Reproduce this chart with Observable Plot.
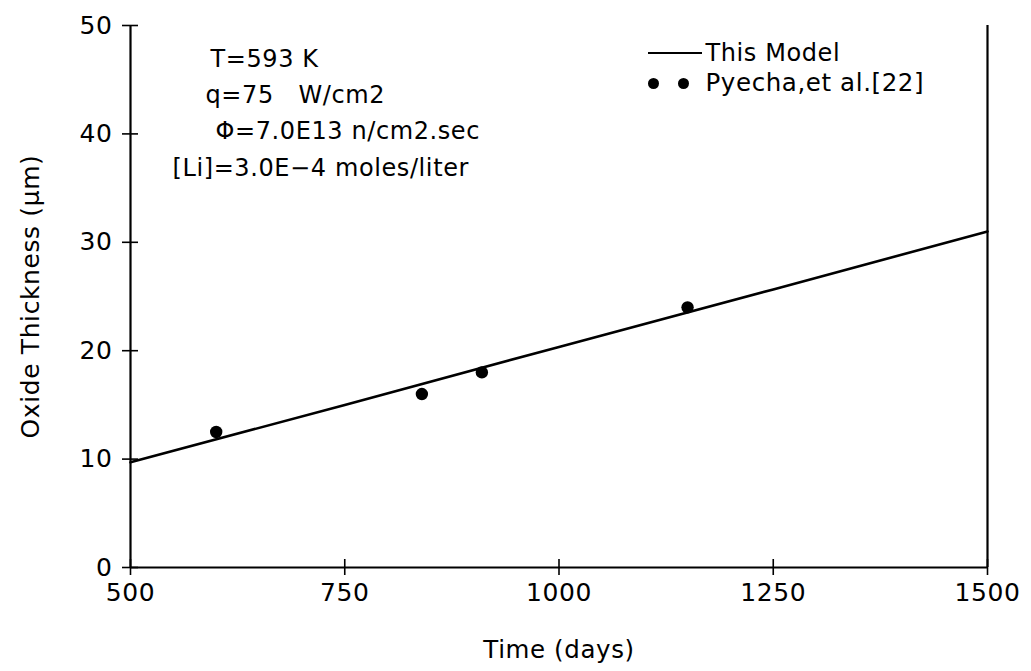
<!DOCTYPE html>
<html><head><meta charset="utf-8">
<script src="https://cdn.jsdelivr.net/npm/d3@7"></script>
<script src="https://cdn.jsdelivr.net/npm/@observablehq/plot@0.6"></script>
<style>
body{margin:0;background:#fff}
svg{display:block}
</style>
</head><body><div id="chart"></div>
<script>
// Model curve ("This Model")
const modelDays = [500, 750, 1000, 1250, 1500];
const modelThickness = [9.7, 15.0, 20.35, 25.65, 31.0];
// Measured data (Pyecha, et al. [22])
const pyechaDays = [600, 840, 910, 1150];
const pyechaThickness = [12.5, 16.0, 18.0, 24.0];
// Axes
const xTicks = [500, 750, 1000, 1250, 1500];
const yTicks = [0, 10, 20, 30, 40, 50];
const xDomain = [500, 1500];
const yDomain = [0, 50];
// Texts
const conditions = ["T=593 K", "q=75   W/cm2", "\u03A6=7.0E13 n/cm2.sec", "[Li]=3.0E\u22124 moles/liter"];
const legendLabels = ["This Model", "Pyecha,et al.[22]"];
const xLabel = "Time (days)";
const yLabel = "Oxide Thickness (\u03BCm)";

const model = modelDays.map((d, i) => ({day: d, thickness: modelThickness[i]}));
const pyecha = pyechaDays.map((d, i) => ({day: d, thickness: pyechaThickness[i]}));

const font = "DejaVu Sans";
const condOffsets = [[80, 34], [75, 70], [85, 106], [42, 143]];
const W = 1031, H = 671, ML = 130, MR = 44, MT = 25, MB = 104;
const frameW = W - ML - MR, frameH = H - MT - MB;

// legend sample line drawn in frame pixel space
const legendLine = (index, scales, values, dims) => {
  const right = dims.width - dims.marginRight;
  const top = dims.marginTop;
  return d3.create("svg:line")
    .attr("x1", right - 339).attr("x2", right - 285)
    .attr("y1", top + 28).attr("y2", top + 28)
    .attr("stroke", "#000").attr("stroke-width", 2)
    .node();
};

const chart = Plot.plot({
  width: W,
  height: H,
  marginLeft: ML,
  marginRight: MR,
  marginTop: MT,
  marginBottom: MB,
  style: {fontFamily: font, fontSize: "24px", color: "#000", background: "#fff", letterSpacing: "0.6px"},
  x: {domain: xDomain},
  y: {domain: yDomain},
  marks: [
    // frame: left, right, bottom
    Plot.ruleX(xDomain, {stroke: "#000", strokeWidth: 2.2}),
    Plot.ruleY([yDomain[0]], {stroke: "#000", strokeWidth: 2.2}),
    // outward ticks + labels
    Plot.axisX(xTicks, {tickSize: 8, tickPadding: 8, strokeWidth: 1.6, fontSize: 25, tickFormat: d => String(d), label: null}),
    Plot.axisY(yTicks, {tickSize: 8, tickPadding: 10, strokeWidth: 1.6, fontSize: 25, tickFormat: d => String(d), label: null}),
    // inward ticks (cross marks)
    Plot.tickX(xTicks, {x: d => d, insetTop: frameH - 8, stroke: "#000", strokeWidth: 1.6}),
    Plot.tickY(yTicks, {y: d => d, insetRight: frameW - 8, stroke: "#000", strokeWidth: 1.6}),
    // axis titles
    Plot.text([xLabel], {frameAnchor: "bottom", lineAnchor: "middle", dy: 83, fontSize: 24.5}),
    Plot.text([yLabel], {frameAnchor: "left", textAnchor: "middle", lineAnchor: "middle", rotate: -90, dx: -100, fontSize: 25}),
    // model line
    Plot.line(model, {x: "day", y: "thickness", stroke: "#000", strokeWidth: 2.6}),
    // measured points
    Plot.dot(pyecha, {x: "day", y: "thickness", r: 6.2, fill: "#000", stroke: null}),
    // conditions
    ...conditions.map((t, i) => Plot.text([t], {frameAnchor: "top-left", textAnchor: "start", lineAnchor: "middle", dx: condOffsets[i][0], dy: condOffsets[i][1], fontSize: 24})),
    // legend
    legendLine,
    Plot.text([legendLabels[0]], {frameAnchor: "top-right", textAnchor: "start", lineAnchor: "middle", dx: -282, dy: 28, fontSize: 24}),
    Plot.dot([legendLabels[1]], {frameAnchor: "top-right", dx: -334, dy: 58, r: 5.5, fill: "#000", stroke: null}),
    Plot.dot([legendLabels[1]], {frameAnchor: "top-right", dx: -304, dy: 58, r: 5.5, fill: "#000", stroke: null}),
    Plot.text([legendLabels[1]], {frameAnchor: "top-right", textAnchor: "start", lineAnchor: "middle", dx: -282, dy: 58, fontSize: 24.5, letterSpacing: "2px"})
  ]
});
// wider letter spacing for the legend's reference label (Hershey-like font is wide)
document.getElementById("chart").appendChild(chart);
</script>
</body></html>
